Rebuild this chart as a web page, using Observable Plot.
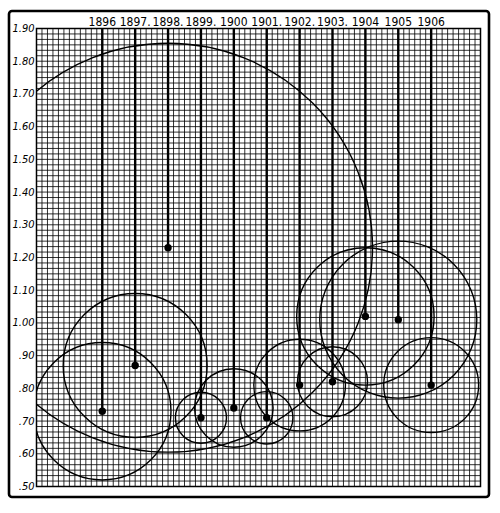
<!DOCTYPE html>
<html>
<head>
<meta charset="utf-8">
<script src="https://cdn.jsdelivr.net/npm/d3@7"></script>
<script src="https://cdn.jsdelivr.net/npm/@observablehq/plot@0.6"></script>
<style>
  html, body { margin: 0; padding: 0; background: #fff; }
  #chart { width: 500px; height: 513px; }
</style>
</head>
<body>
<div id="chart"></div>
<script>
// ---- data ----
const years = [1896, 1897, 1898, 1899, 1900, 1901, 1902, 1903, 1904, 1905, 1906];
const yearLabels = ["1896", "1897.", "1898.", "1899.", "1900", "1901.", "1902.", "1903.", "1904", "1905", "1906"];
const values = [0.73, 0.87, 1.23, 0.71, 0.74, 0.71, 0.81, 0.82, 1.02, 1.01, 0.81];
// circle radius, in the same units as the value axis
const circleSizes = [0.21, 0.22, 0.625, 0.078, 0.12, 0.08, 0.14, 0.107, 0.21, 0.24, 0.145];
const yTickValues = [0.5, 0.6, 0.7, 0.8, 0.9, 1.0, 1.1, 1.2, 1.3, 1.4, 1.5, 1.6, 1.7, 1.8, 1.9];

const xDomain = [1894, 1907.5];
const yDomain = [0.5, 1.9];

const data = years.map((year, i) => ({year, value: values[i], size: circleSizes[i]}));

// fine cross-section ruling: six divisions per year / per 0.10
const xMinor = d3.range(0, (xDomain[1] - xDomain[0]) * 6 + 0.5).map(k => xDomain[0] + k / 6);
const yMinor = d3.range(0, (yDomain[1] - yDomain[0]) * 60 + 0.5).map(k => yDomain[0] + k / 60);

const W = 500, H = 513;
const mL = 36, mR = 20, mT = 28, mB = 27;
const plotH = H - mT - mB;
const pxPerUnit = plotH / (yDomain[1] - yDomain[0]);

const chart = Plot.plot({
  width: W,
  height: H,
  marginLeft: mL,
  marginRight: mR,
  marginTop: mT,
  marginBottom: mB,
  style: {background: "#fff", fontFamily: "'DejaVu Sans Condensed', 'Liberation Sans Narrow', sans-serif", fontSize: "11px", color: "#000", overflow: "visible"},
  x: {domain: xDomain, axis: "top", ticks: years, tickFormat: d => yearLabels[years.indexOf(d)], tickSize: 0, tickPadding: 3, label: null},
  y: {domain: yDomain, ticks: yTickValues, tickFormat: d => d >= 1 ? d.toFixed(2) : d.toFixed(2).slice(1), tickSize: 0, tickPadding: 2, label: null},
  r: {type: "linear", domain: [0, 1], range: [0, pxPerUnit]},
  marks: [
    Plot.ruleX(xMinor, {x: d => d, stroke: "#000", strokeWidth: 0.9, strokeOpacity: 0.9}),
    Plot.ruleY(yMinor, {y: d => d, stroke: "#000", strokeWidth: 0.9, strokeOpacity: 0.9}),
    Plot.frame({stroke: "#000", strokeWidth: 1.5}),
    Plot.ruleX(data, {x: "year", y1: () => yDomain[1], y2: "value", stroke: "#000", strokeWidth: 2.4}),
    Plot.dot(data, {x: "year", y: "value", r: "size", fill: "none", stroke: "#000", strokeWidth: 1.4, clip: true}),
    Plot.dot(data, {x: "year", y: "value", r: 3.7, fill: "#000", stroke: "none"})
  ]
});

// slanted lettering on the value axis, like the hand-lettered original
d3.select(chart).selectAll("g[aria-label='y-axis'] text, g[aria-label='y-axis tick label'] text").style("font-style", "italic");
// year lettering a little larger
d3.select(chart).selectAll("g[aria-label='x-axis'] text, g[aria-label='x-axis tick label'] text").style("font-size", "12px");

// heavy outer border of the figure
d3.select(chart).append("rect")
  .attr("x", 9).attr("y", 11).attr("width", 480).attr("height", 486)
  .attr("rx", 3)
  .attr("fill", "none").attr("stroke", "#000").attr("stroke-width", 2.6);

document.getElementById("chart").appendChild(chart);
</script>
</body>
</html>
